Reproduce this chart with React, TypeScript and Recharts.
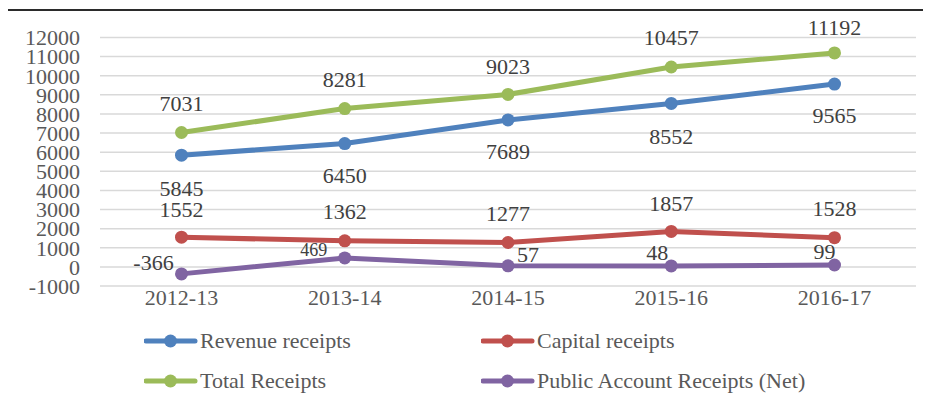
import React from "react";
import { LineChart, Line, XAxis, YAxis, CartesianGrid, LabelList } from "recharts";

const years = ["2012-13", "2013-14", "2014-15", "2015-16", "2016-17"];
const revenueReceipts = [5845, 6450, 7689, 8552, 9565];
const capitalReceipts = [1552, 1362, 1277, 1857, 1528];
const totalReceipts = [7031, 8281, 9023, 10457, 11192];
const publicAccountReceipts = [-366, 469, 57, 48, 99];
const yTicks = [-1000, 0, 1000, 2000, 3000, 4000, 5000, 6000, 7000, 8000, 9000, 10000, 11000, 12000];

const data = years.map((year, i) => ({
  year,
  revenue: revenueReceipts[i],
  capital: capitalReceipts[i],
  total: totalReceipts[i],
  publicAcc: publicAccountReceipts[i],
}));

const FONT = '"Liberation Serif", "Times New Roman", serif';

type Off = [number, number, number?];

const makeLabel = (offsets: Off[]) => (props: any) => {
  const { x, y, value, index } = props;
  const o = offsets[index] || [0, 0];
  const size = o[2] || 22;
  return (
    <text
      x={x + o[0]}
      y={y + o[1]}
      textAnchor="middle"
      dominantBaseline="central"
      fontFamily={FONT}
      fontSize={size}
      fill="#404040"
    >
      {value}
    </text>
  );
};

const revOff: Off[] = [[0, 33], [0, 32], [0, 32], [0, 33], [0, 31]];
const totOff: Off[] = [[0, -29], [0, -29], [0, -28], [0, -29], [0, -25]];
const capOff: Off[] = [[0, -28], [0, -29], [0, -29], [0, -28], [0, -29]];
const pubOff: Off[] = [[-28, -11], [-31, -8, 18], [20, -11], [-14, -13], [-10, -13]];

const series = [
  { key: "revenue", name: "Revenue receipts", color: "#4F81BD", off: revOff },
  { key: "capital", name: "Capital receipts", color: "#C0504D", off: capOff },
  { key: "total", name: "Total Receipts", color: "#9BBB59", off: totOff },
  { key: "publicAcc", name: "Public Account Receipts (Net)", color: "#8064A2", off: pubOff },
];

const legendPos = [
  { left: 144, top: 341 },
  { left: 481, top: 341 },
  { left: 144, top: 381 },
  { left: 481, top: 381 },
];

export default function App() {
  return (
    <div
      style={{
        position: "relative",
        width: 931,
        height: 406,
        margin: -8,
        overflow: "hidden",
        background: "#fff",
        fontFamily: FONT,
      }}
    >
      <div
        style={{
          position: "absolute",
          left: 6,
          top: 9,
          width: 1000,
          height: 500,
          border: "2px solid #2b2b2b",
          boxSizing: "border-box",
        }}
      />
      <div style={{ position: "absolute", left: 0, top: 0 }}>
        <LineChart
          width={931}
          height={406}
          data={data}
          margin={{ top: 37.5, right: 15, bottom: 90, left: 0 }}
        >
          <CartesianGrid horizontal vertical={false} stroke="#D9D9D9" strokeWidth={1.5} />
          <XAxis
            dataKey="year"
            axisLine={false}
            tickLine={false}
            tickSize={0}
            tickMargin={3}
            height={30}
            padding={{ left: 81.5, right: 81.5 }}
            interval={0}
            tick={{ fontFamily: FONT, fontSize: 22, fill: "#595959" }}
          />
          <YAxis
            type="number"
            domain={[-1000, 12000]}
            ticks={yTicks}
            interval={0}
            width={100}
            axisLine={false}
            tickLine={false}
            tickSize={0}
            tickMargin={20}
            tick={{ fontFamily: FONT, fontSize: 22, fill: "#595959" }}
          />
          {series.map((s) => (
            <Line
              key={s.key}
              type="linear"
              dataKey={s.key}
              name={s.name}
              stroke={s.color}
              strokeWidth={5}
              dot={{ r: 6.5, fill: s.color, stroke: s.color, strokeWidth: 0 }}
              activeDot={false}
              isAnimationActive={false}
            >
              <LabelList dataKey={s.key} content={makeLabel(s.off)} />
            </Line>
          ))}
        </LineChart>
      </div>
      {series.map((s, i) => (
        <div
          key={s.key}
          style={{
            position: "absolute",
            left: legendPos[i].left,
            top: legendPos[i].top - 14,
            height: 28,
            display: "flex",
            alignItems: "center",
            whiteSpace: "nowrap",
          }}
        >
          <svg width={56} height={28} style={{ display: "block" }}>
            <line x1={2} y1={14} x2={51} y2={14} stroke={s.color} strokeWidth={5} strokeLinecap="round" />
            <circle cx={26.5} cy={14} r={6.5} fill={s.color} />
          </svg>
          <span style={{ fontFamily: FONT, fontSize: 22, color: "#595959", lineHeight: "28px" }}>
            {s.name}
          </span>
        </div>
      ))}
    </div>
  );
}
